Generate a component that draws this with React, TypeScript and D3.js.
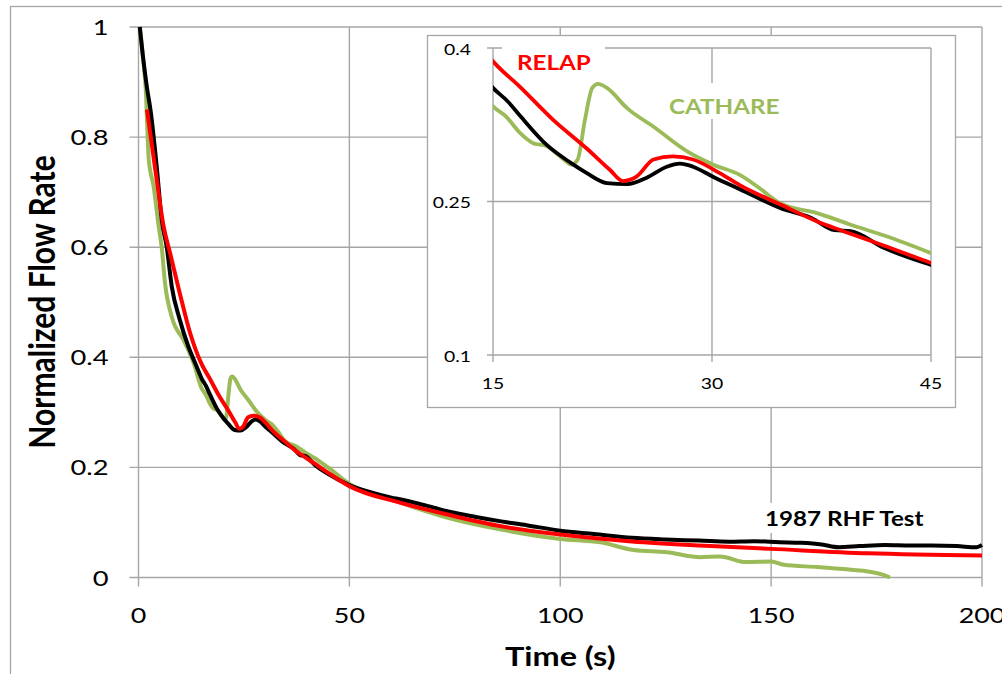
import React from 'react';
import * as d3 from 'd3';

// 1987 RHF test (black)
const testTime = [0.3, 1.0, 2.0, 2.85, 4.4, 5.5, 6.7, 7.9, 9.8, 11.8, 13.8, 15.0, 16.0, 16.9, 18.7, 20.3, 21.4, 22.8, 24.2, 25.5, 26.9, 27.8, 28.7, 30.1, 31.9, 34.7, 36.8, 38.4, 39.5, 41.8, 45, 50, 55, 60, 62, 66, 70, 74, 80, 86, 92, 100, 108, 117, 125, 133, 140, 146, 152, 157, 162, 166, 171, 177, 183, 188, 194, 198.7, 200];
const testFlow = [1.0, 0.95, 0.89, 0.849, 0.74, 0.65, 0.6, 0.528, 0.468, 0.42, 0.383, 0.361, 0.348, 0.333, 0.305, 0.288, 0.278, 0.268, 0.267, 0.273, 0.284, 0.287, 0.284, 0.274, 0.262, 0.2435, 0.234, 0.222, 0.221, 0.2045, 0.188, 0.168, 0.155, 0.145, 0.142, 0.135, 0.127, 0.119, 0.11, 0.102, 0.095, 0.085, 0.079, 0.072, 0.069, 0.067, 0.065, 0.066, 0.064, 0.063, 0.06, 0.055, 0.057, 0.059, 0.058, 0.058, 0.057, 0.055, 0.059];

// RELAP (red)
const relapTime = [2.0, 4.0, 6.0, 7.5, 9.8, 12.2, 15, 16.85, 19.1, 21.4, 23.0, 23.9, 24.8, 26.0, 27.3, 28.7, 30.5, 31.9, 34.7, 37.2, 39.0, 41.8, 45, 50, 62, 74, 86, 100, 117, 133, 150, 173, 200];
const relapFlow = [0.85, 0.74, 0.636, 0.589, 0.516, 0.445, 0.387, 0.362, 0.33, 0.302, 0.281, 0.27, 0.274, 0.291, 0.294, 0.291, 0.278, 0.266, 0.247, 0.2305, 0.221, 0.2067, 0.19, 0.166, 0.136, 0.113, 0.093, 0.078, 0.0655, 0.058, 0.052, 0.044, 0.04];

// CATHARE (green)
const cathareTime = [0.3, 1.0, 1.7, 2.45, 3.6, 4.8, 5.5, 6.3, 7.9, 10.7, 13.1, 15, 15.9, 16.85, 17.75, 18.7, 19.6, 20.4, 20.8, 21.3, 21.8, 22.2, 22.8, 24.2, 26.0, 28.3, 30.1, 31.9, 33.1, 34.7, 37.2, 39.5, 42.0, 45, 50, 62, 74, 86, 100, 109.5, 117.4, 125.3, 133.2, 137.9, 144, 150, 153, 161, 169, 173, 176, 178.2];
const cathareFlow = [1.0, 0.95, 0.89, 0.758, 0.71, 0.637, 0.6, 0.534, 0.473, 0.431, 0.389, 0.343, 0.333, 0.317, 0.307, 0.304, 0.294, 0.286, 0.291, 0.33, 0.361, 0.365, 0.361, 0.341, 0.323, 0.299, 0.286, 0.276, 0.2647, 0.248, 0.2387, 0.2273, 0.2158, 0.1996, 0.17, 0.136, 0.107, 0.087, 0.07, 0.064, 0.05, 0.046, 0.037, 0.038, 0.028, 0.029, 0.023, 0.019, 0.014, 0.011, 0.006, 0.0];

const xTicks = [0, 50, 100, 150, 200];
const yTicks = [0, 0.2, 0.4, 0.6, 0.8, 1];
const insetXTicks = [15, 30, 45];
const insetYTicks = [0.1, 0.25, 0.4];

const GRID = '#a6a6a6';
const GREEN = '#9bbb59';
const RED = '#ff0000';
const FONT = 'Lato, sans-serif';

function Label({ x, y, size, bold = false, fill = '#000', anchor = 'start', sx = 1.22, children }: any) {
  return (
    <text
      transform={`translate(${x},${y}) scale(${sx},1)`}
      fontFamily={FONT}
      fontSize={size}
      fontWeight={bold ? 700 : 400}
      fill={fill}
      textAnchor={anchor}
    >
      {children}
    </text>
  );
}

export default function App() {
  const x = d3.scaleLinear().domain([0, 200]).range([138.5, 982]);
  const y = d3.scaleLinear().domain([0, 1]).range([577.5, 27]);
  const ix = d3.scaleLinear().domain([15, 45]).range([493, 931]);
  const iy = d3.scaleLinear().domain([0.1, 0.4]).range([355, 48]);

  const series = [
    { t: cathareTime, v: cathareFlow, color: GREEN },
    { t: testTime, v: testFlow, color: '#000' },
    { t: relapTime, v: relapFlow, color: RED },
  ];

  const mainLine = (t: number[], v: number[]) =>
    d3.line<number>().x((d) => x(d)).y((_, i) => y(v[i])).curve(d3.curveMonotoneX)(t);
  const insetLine = (t: number[], v: number[]) =>
    d3.line<number>().x((d) => ix(d)).y((_, i) => iy(v[i])).curve(d3.curveMonotoneX)(t);

  const [x0, x1] = x.range();
  const [y0, y1] = y.range();
  const [ix0, ix1] = ix.range();
  const [iy0, iy1] = iy.range();

  return (
    <svg
      width={1002}
      height={674}
      style={{ position: 'absolute', left: 0, top: 0, background: '#fff' }}
    >
      <rect x={10.5} y={6.5} width={1100} height={700} fill="#fff" stroke={GRID} strokeWidth={1.3} />

      {/* main grid */}
      {yTicks.map((d) => (
        <line key={'gy' + d} x1={x0 - 9} x2={x1} y1={y(d)} y2={y(d)} stroke={GRID} strokeWidth={1.4} />
      ))}
      {xTicks.map((d) => (
        <line key={'gx' + d} x1={x(d)} x2={x(d)} y1={y1} y2={y0 + 9} stroke={GRID} strokeWidth={1.4} />
      ))}
      {yTicks.map((d) => (
        <Label key={'ly' + d} x={x0 - 30} y={y(d) + 8} size={22} anchor="end" sx={1.24}>
          {d3.format('~g')(d)}
        </Label>
      ))}
      {xTicks.map((d) => (
        <Label key={'lx' + d} x={x(d)} y={623} size={22} anchor="middle" sx={1.22}>
          {d}
        </Label>
      ))}
      <Label x={(x0 + x1) / 2} y={666} size={27} bold anchor="middle" sx={1.2}>
        Time (s)
      </Label>
      <text
        transform="translate(55,302) rotate(-90) scale(1,1.2)"
        fontFamily={FONT}
        fontSize={30}
        fontWeight={700}
        textAnchor="middle"
      >
        Normalized Flow Rate
      </text>

      {/* main curves */}
      {series.map((s, i) => (
        <path key={'m' + i} d={mainLine(s.t, s.v) || ''} fill="none" stroke={s.color} strokeWidth={4} strokeLinejoin="round" />
      ))}

      <rect x={760} y={503} width={170} height={30} fill="#fff" />
      <Label x={765} y={525.5} size={20.5} bold sx={1.18}>
        1987 RHF Test
      </Label>

      {/* inset */}
      <rect x={427.5} y={35.5} width={528} height={372} fill="#fff" stroke={GRID} strokeWidth={1.3} />
      <defs>
        <clipPath id="inset-clip">
          <rect x={ix0} y={iy1} width={ix1 - ix0} height={iy0 - iy1} />
        </clipPath>
      </defs>
      {insetYTicks.map((d) => (
        <line key={'iy' + d} x1={ix0 - 6} x2={ix1} y1={iy(d)} y2={iy(d)} stroke={GRID} strokeWidth={1.4} />
      ))}
      {insetXTicks.map((d) => (
        <line key={'ix' + d} x1={ix(d)} x2={ix(d)} y1={iy1} y2={iy0 + 7} stroke={GRID} strokeWidth={1.4} />
      ))}
      {insetYTicks.map((d) => (
        <Label key={'ily' + d} x={ix0 - 22} y={iy(d) + 6.5} size={15.5} anchor="end" sx={1.25}>
          {d3.format('~g')(d)}
        </Label>
      ))}
      {insetXTicks.map((d) => (
        <Label key={'ilx' + d} x={ix(d)} y={389} size={15.5} anchor="middle" sx={1.25}>
          {d}
        </Label>
      ))}
      <rect x={502} y={42} width={103} height={26} fill="#fff" />
      <rect x={652} y={83} width={140} height={36} fill="#fff" />
      <g clipPath="url(#inset-clip)">
        {series.map((s, i) => (
          <path key={'i' + i} d={insetLine(s.t, s.v) || ''} fill="none" stroke={s.color} strokeWidth={3.8} strokeLinejoin="round" />
        ))}
      </g>
      <Label x={517} y={69.5} size={20.5} bold fill={RED} sx={1.18}>
        RELAP
      </Label>
      <Label x={669} y={114} size={20.5} bold fill={GREEN} sx={1.18}>
        CATHARE
      </Label>
    </svg>
  );
}
